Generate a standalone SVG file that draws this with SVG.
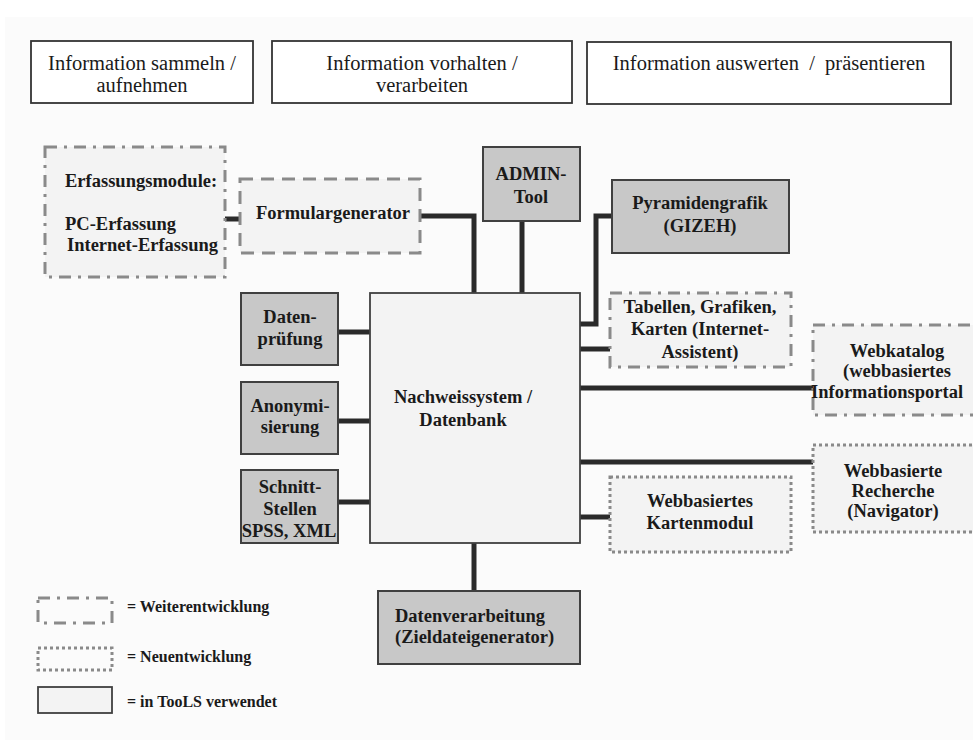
<svg xmlns="http://www.w3.org/2000/svg" width="973" height="740" viewBox="0 0 973 740">
<style>
  text { font-family: "Liberation Serif", "Times New Roman", serif; fill: #1a1a1a; }
  .hdr { font-size: 20.5px; }
  .nt { font-size: 18.5px; font-weight: bold; text-anchor: middle; }
  .lg { font-size: 16px; font-weight: bold; }
  .hbox { fill: #ffffff; stroke: #333; stroke-width: 1.8; }
  .used { fill: #c8c8c8; stroke: #404040; stroke-width: 2; }
  .main { fill: #f3f3f3; stroke: #404040; stroke-width: 1.8; }
  .weiter { fill: #f3f3f3; stroke: #8a8a8a; stroke-width: 3; stroke-dasharray: 12 7 3 7; }
  .dash { fill: #f3f3f3; stroke: #8a8a8a; stroke-width: 3; stroke-dasharray: 13 8; }
  .neu { fill: #f3f3f3; stroke: #8a8a8a; stroke-width: 3; stroke-dasharray: 3 3; }
  .conn { fill: none; stroke: #2a2a2a; stroke-width: 5; }
</style>
<rect x="0" y="0" width="973" height="740" fill="#ffffff"/>
<rect x="5" y="17" width="968" height="723" fill="#fbfbfb"/>

<g id="header-sammeln">
  <rect class="hbox" x="31" y="41" width="222" height="62"/>
  <text class="hdr" x="142" y="70" text-anchor="middle">Information sammeln /</text>
  <text class="hdr" x="142" y="92" text-anchor="middle">aufnehmen</text>
</g>
<g id="header-vorhalten">
  <rect class="hbox" x="272" y="41" width="300" height="62"/>
  <text class="hdr" x="422" y="70" text-anchor="middle">Information vorhalten /</text>
  <text class="hdr" x="422" y="92" text-anchor="middle">verarbeiten</text>
</g>
<g id="header-auswerten">
  <rect class="hbox" x="587" y="42" width="364" height="62"/>
  <text class="hdr" x="769" y="70" text-anchor="middle" xml:space="preserve">Information auswerten  /  präsentieren</text>
</g>

<g id="connectors">
  <path class="conn" d="M225,219 H240"/>
  <path class="conn" d="M420,216 H474 V293"/>
  <path class="conn" d="M522,221 V293"/>
  <path class="conn" d="M580,324 H596 V216 H612"/>
  <path class="conn" d="M580,349 H610"/>
  <path class="conn" d="M580,388 H813"/>
  <path class="conn" d="M580,462 H813"/>
  <path class="conn" d="M580,517 H610"/>
  <path class="conn" d="M338,332 H370"/>
  <path class="conn" d="M338,421 H370"/>
  <path class="conn" d="M338,502 H370"/>
  <path class="conn" d="M474,543 V591"/>
</g>

<g id="erfassungsmodule">
  <rect class="weiter" x="45" y="147" width="180" height="130"/>
  <text class="nt" x="65" y="187" text-anchor="start" style="text-anchor:start">Erfassungsmodule:</text>
  <text class="nt" x="65" y="230" style="text-anchor:start">PC-Erfassung</text>
  <text class="nt" x="67" y="251" style="text-anchor:start">Internet-Erfassung</text>
</g>
<g id="formulargenerator">
  <rect class="dash" x="240" y="179" width="180" height="74"/>
  <text class="nt" x="333" y="219">Formulargenerator</text>
</g>
<g id="admin-tool">
  <rect class="used" x="483" y="147" width="97" height="74"/>
  <text class="nt" x="531" y="180">ADMIN-</text>
  <text class="nt" x="531" y="203">Tool</text>
</g>
<g id="pyramidengrafik">
  <rect class="used" x="612" y="180" width="177" height="73"/>
  <text class="nt" x="700" y="209">Pyramidengrafik</text>
  <text class="nt" x="700" y="232">(GIZEH)</text>
</g>
<g id="datenpruefung">
  <rect class="used" x="241" y="293" width="97" height="72"/>
  <text class="nt" x="290" y="323">Daten-</text>
  <text class="nt" x="290" y="345">prüfung</text>
</g>
<g id="anonymisierung">
  <rect class="used" x="241" y="382" width="97" height="72"/>
  <text class="nt" x="290" y="412">Anonymi-</text>
  <text class="nt" x="290" y="433">sierung</text>
</g>
<g id="schnittstellen">
  <rect class="used" x="241" y="470" width="97" height="73"/>
  <text class="nt" x="290" y="493">Schnitt-</text>
  <text class="nt" x="290" y="515">Stellen</text>
  <text class="nt" x="289" y="537">SPSS, XML</text>
</g>
<g id="nachweissystem">
  <rect class="main" x="370" y="293" width="210" height="250"/>
  <text class="nt" x="463" y="403">Nachweissystem /</text>
  <text class="nt" x="463" y="426">Datenbank</text>
</g>
<g id="tabellen">
  <rect class="weiter" x="610" y="293" width="181" height="74"/>
  <text class="nt" x="700" y="313">Tabellen, Grafiken,</text>
  <text class="nt" x="700" y="335">Karten (Internet-</text>
  <text class="nt" x="700" y="358">Assistent)</text>
</g>
<g id="webkatalog">
  <rect class="weiter" x="813" y="325" width="170" height="90"/>
  <text class="nt" x="897" y="357">Webkatalog</text>
  <text class="nt" x="897" y="377">(webbasiertes</text>
  <text class="nt" x="811" y="398" style="text-anchor:start">Informationsportal</text>
</g>
<g id="recherche">
  <rect class="neu" x="813" y="445" width="165" height="87"/>
  <text class="nt" x="893" y="477">Webbasierte</text>
  <text class="nt" x="893" y="497">Recherche</text>
  <text class="nt" x="893" y="517">(Navigator)</text>
</g>
<g id="kartenmodul">
  <rect class="neu" x="610" y="477" width="181" height="75"/>
  <text class="nt" x="700" y="507">Webbasiertes</text>
  <text class="nt" x="700" y="529">Kartenmodul</text>
</g>
<g id="datenverarbeitung">
  <rect class="used" x="378" y="591" width="202" height="73"/>
  <text class="nt" x="395" y="622" style="text-anchor:start">Datenverarbeitung</text>
  <text class="nt" x="395" y="643" style="text-anchor:start">(Zieldateigenerator)</text>
</g>

<g id="legend">
  <rect class="weiter" x="38" y="598" width="74" height="25" style="fill:none"/>
  <text class="lg" x="127" y="612">= Weiterentwicklung</text>
  <rect class="neu" x="38" y="648" width="74" height="22" style="fill:none"/>
  <text class="lg" x="127" y="662">= Neuentwicklung</text>
  <rect class="main" x="38" y="687" width="74" height="26"/>
  <text class="lg" x="127" y="707">= in TooLS verwendet</text>
</g>
</svg>
